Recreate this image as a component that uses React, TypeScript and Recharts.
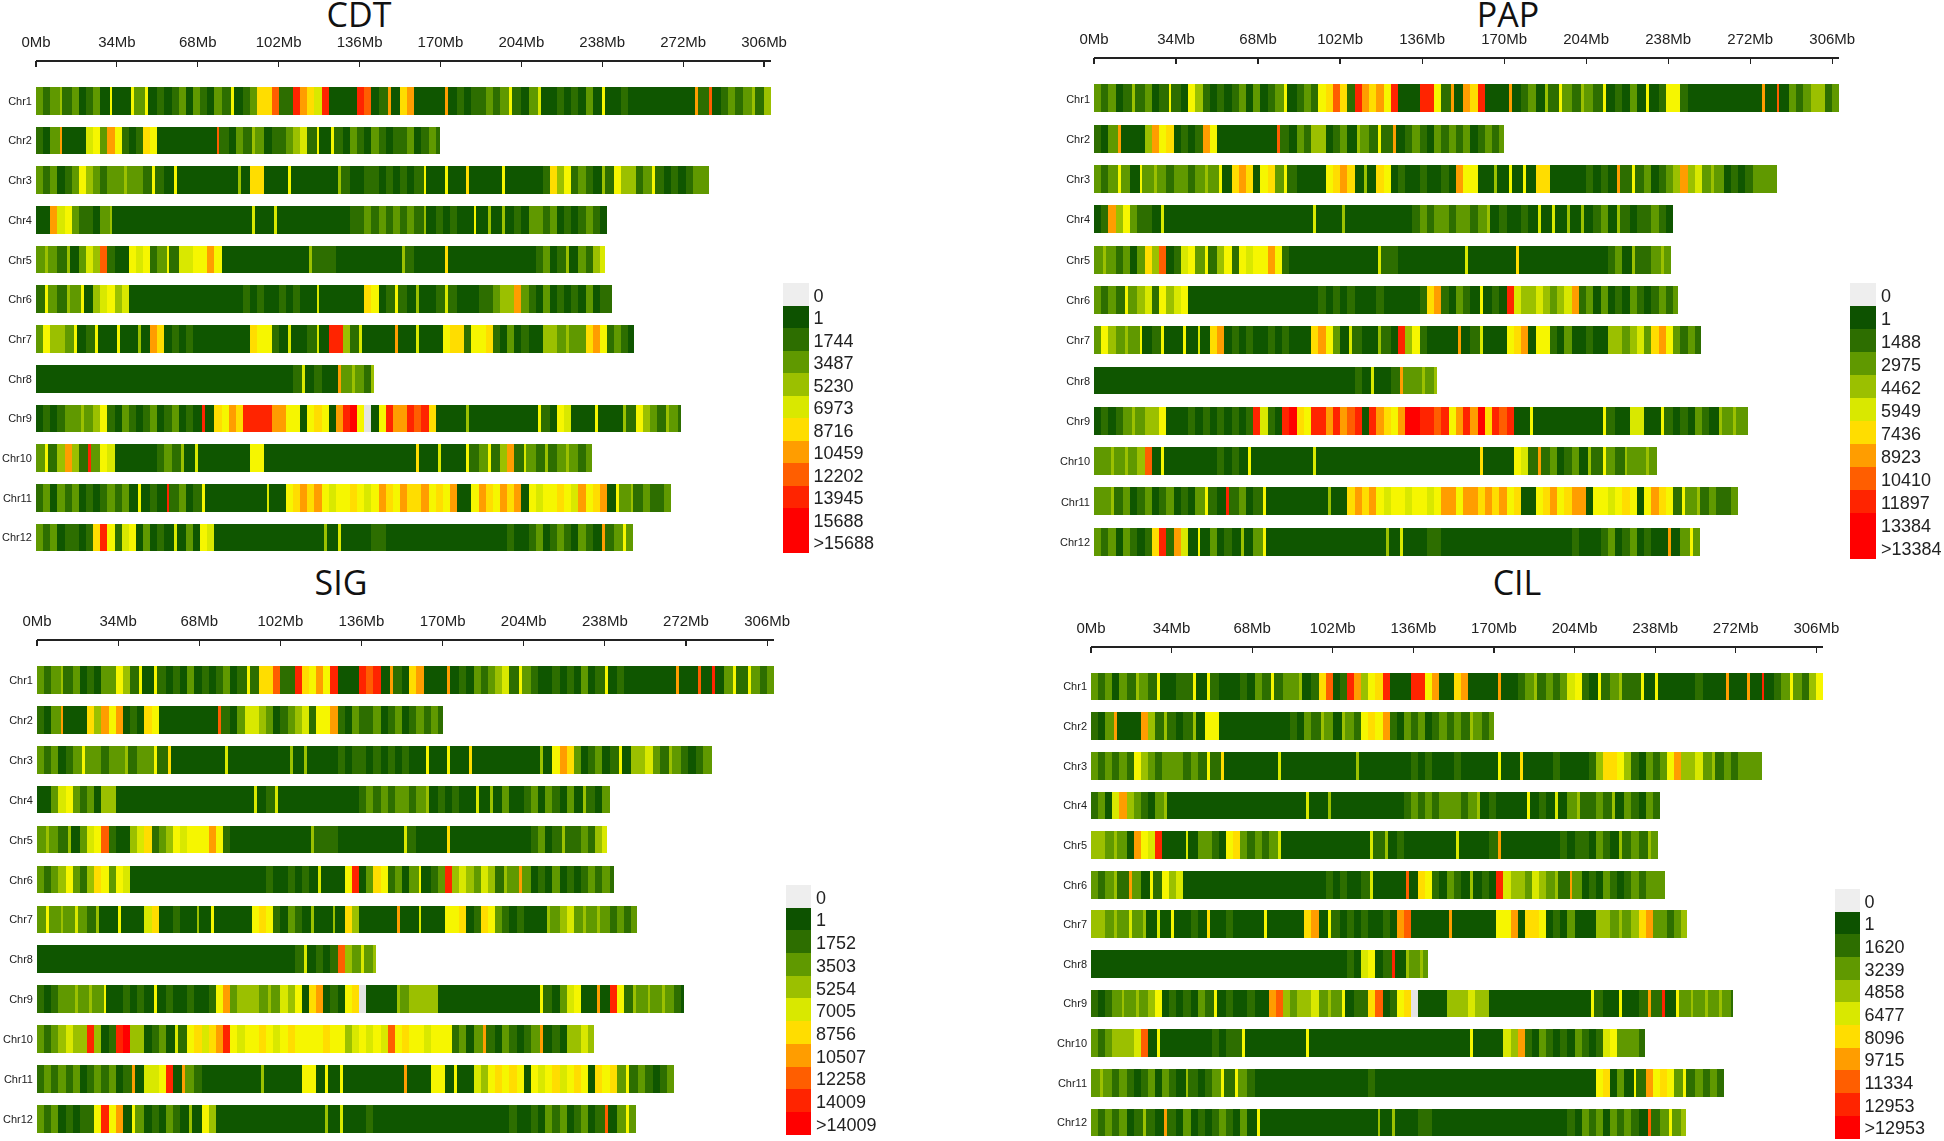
import { BarChart, Bar, Cell, XAxis, YAxis } from "recharts";

// bins are 3 Mb wide, one character per bin, spaces are only for counting
// 1-5 green to yellow-green, y pure yellow, 6 amber, 7-9 orange to red, a red, 0 no data
// a single bright bin between dark ones stands for a thin stripe, about 1 Mb wide
const chromNames = ["Chr1", "Chr2", "Chr3", "Chr4", "Chr5", "Chr6", "Chr7", "Chr8", "Chr9", "Chr10", "Chr11", "Chr12"];
const chromLengths = [309, 170, 283, 240, 239, 242, 251.5, 142, 271, 233.5, 267, 251];
const axisTicks = [0, 34, 68, 102, 136, 170, 204, 238, 272, 306];

const cdtBins = [
  "3234231231 y11y3y1212 3132132y12 3668229765 9111198127 1671111712 122323y213 511212131y 1121111111 1172812323 424",
  "2137111 5y3 7y2126y111 1111182132 4312234 52y 1y21321321 2231232",
  "323123y432 334332y21y 1111111141 66111y1111 1142112212 1212y11y11 61111y1111 1264y23214 2y4423y212 12333",
  "1175y32213 4111111111 1111111111 5115111111 1111223232 3232412121 1y14141213 3231212321",
  "3432413548 211y5y23y2 55yy7y1111 1111111142 2211111111 1421111611 1111111111 2312413245",
  "2y3243y145 y451111111 1111111112 1211212115 1111116y12 y214112521 1122344732 13121213122",
  "3y443y12y1 1y11417612 1211111111 6yy2151125 1994251111 7115111y66 2yy6213121 144343367y 2321",
  "1111111111 1111111111 1111111111 1111112512 11734324",
  "121233434y 2132123123 121916y769 99977yy1y6 y179ay01y9 7798961111 4111111111 y21y5111y1 1142y432432",
  "3y2474293y 5111111232 4151111111 yy11111111 1111111111 1116115111 y23y247253 24234323",
  "2313231212 3231y12192 312y111111 11511y6767 y5yy6y5y76 y7667y6y71 1y76y7671y 5yy6y57y67 1y3423223",
  "3231221269 y25y131215 131y511111 1111111111 4151111221 1111111111 1111112112 3123213217 23y3",
];

const papBins = [
  "3231242312 y21y421212 313123y123 2y68629767 y911199y27 1769111712 3142y32432 y12131y12y y211111111 1171813234 423",
  "2137111 47y 612127y111 1111182132 441231432y 2712321323 2312323",
  "323y31y343 2332343y16 761y63y211 11y6761416 y121121121 7yy1141y1y 1661111121 2172y23123 4745343121 23333",
  "1274y32215 1111111111 1111111111 5111411111 1111232332 3323412112 1515141412 3142122321",
  "3432313648 125y3y24y2 y5yy7y2111 1111111115 2211111111 1511111161 1111111111 1231422343",
  "3232y3452y 45y1111111 1111111111 1212121112 1111126721 321y121954 4543457231 31213212323",
  "3y4343y12y 11y1516712 1211212111 67y3152114 2194y21111 7125111y67 1yy2131121 144345367y 3232",
  "1111111111 1111111111 1111111111 1111112151 12733434",
  "121234344y 1112121212 1295219a6y 9979789197 6y7aa9989y 797a698911 y111111111 y211551 1y2 12132143433",
  "3343434 81y 1111111212 1y11111111 5111111111 1111111111 1116 1111y5 2723123142 y3243343",
  "3342312312 31213y2192 312y111111 1141167 67y 5yy5yy5y77 y776767y61 1y67y6771y y5y6y1y76y 2y3423223",
  "3231321269 2751y13121 413y111111 1111111111 4151112211 1111111111 1111112111 2312312117 13y3",
];

const sigBins = [
  "3234231213 3y42y1y212 131212312y 2668229 6y7 y911198917 2167111712 1323452y32 112121312y 1211111117 1181913y2y 323",
  "2137111647 y71216y111 1111182135 543123452y y721322312 3123232",
  "323123y332 334233y261 1111115111 1111141411 1121221212 1211y11y11 6111111111 41y7631231 2y14453243 21233",
  "1135y32314 4111111111 1111111111 5125111111 1111123232 3323412121 1514131123 1321314213",
  "34324135y8 2114562 34y 5yyy7y2111 1111111142 2211111111 1521111611 1111111112 3124223245",
  "3234y3246y 3y51111111 1111111111 1121121215 111y9136y2 313y123945 4354243731 21312123232",
  "3y34353241 1y11156112 1141y11111 y6y2132141 1416411111 7115111yy6 126y321211 1434534343 2323",
  "1111111111 1111111111 1111111111 1111112512 12843534",
  "212334343y 112121y121 12112y7344 434354y167 121y601111 4344441111 1111111111 y2135y1171 9y243434321",
  "3234544941 29a4412315 2y65679y5y y6y5y6yyyy 6yy45y5y58 y6yy5yyy23 1372132123 71214454",
  "2323231232 3127155y91 7321111111 1411111yy1 y1y1111111 17111yy1y1 154y6y6y1y 5y65y6y16y 63y232123",
  "32312122y9 y71y312132 141y411111 1111111111 4151112111 1111111111 1111112112 1323123128 13y3",
];

const cilBins = [
  "323132432y 1122y1y211 12132y2334 126812974y 6911199y71 1671111711 23423235y2 1y23422y1y 1111121117 11719123y3 24y",
  "2137111742 421241yy11 1111111121 32431432y6 y721323123 2324323",
  "323232y432 333232y261 1111115111 1111111411 1111121211 1211111y11 6111121111 2466y42132 3y74453423 23333",
  "2315743213 4111111111 1111111111 5114111111 1111232323 3323412111 1y12151342 2324132132",
  "4434317y59 111513321y 6323235111 1111111115 2412111111 1511112711 1111112122 1321423243",
  "32342731y2 y451111111 1111111111 1112121125 1111816y21 3214121954 4354342731 21321232333",
  "4434353415 1y11216112 1111y11111 671y212121 1217811111 7111111yy7 166y121311 1443434673 3234",
  "1111111111 1111111111 1111111111 111111215y 12914343",
  "212343434y 1212132y12 1121178434 45343y1226 812y601111 4445441111 1111111111 y211y11272 91y34343432",
  "323444581y 1111111212 2y11111111 y111111111 1111111111 111y111154 7213212132 125y3332",
  "3432321231 32142123y2 y321111111 1111111112 1111111111 1111111111 1111111111 1y6131y27y 6y3y23232",
  "3232312421 7213121232 131y111111 1111111111 4141112211 1111111111 1111111213 2313232182 3y34",
];

const cdtLegend = ["0", "1", "1744", "3487", "5230", "6973", "8716", "10459", "12202", "13945", "15688", ">15688"];
const papLegend = ["0", "1", "1488", "2975", "4462", "5949", "7436", "8923", "10410", "11897", "13384", ">13384"];
const sigLegend = ["0", "1", "1752", "3503", "5254", "7005", "8756", "10507", "12258", "14009", ">14009"];
const cilLegend = ["0", "1", "1620", "3239", "4858", "6477", "8096", "9715", "11334", "12953", ">12953"];

const legendColors = ["#eeeeee", "#0d5200", "#2d6e00", "#609900", "#9bc000", "#d9e800", "#ffdd00", "#ff9d00", "#ff5e00", "#ff2400", "#ff0000", "#ff0000"];

const levelFill: Record<string, string> = {
  "0": "#e4e4e4",
  "1": "#0f5600",
  "2": "#2d6e00",
  "3": "#609900",
  "4": "#9bc000",
  "5": "#d9e800",
  y: "#f6f600",
  "6": "#ffdd00",
  "7": "#ff9d00",
  "8": "#ff5e00",
  "9": "#ff2400",
  a: "#ff0000",
};

const BIN_MB = 3;
const THIN_MB = 1.2;
const AXIS_END = 309;
const labelFont = "'Liberation Sans', Arial, sans-serif";

const isDark = (c?: string) => c === "1" || c === "2" || c === "3";

// turn one chromosome's bin string into runs of [level, length in Mb]
function toRuns(bins: string, len: number) {
  const cells = bins.replace(/ /g, "").split("").slice(0, Math.ceil(len / BIN_MB));
  const runs: { level: string; mb: number }[] = [];
  const add = (level: string, mb: number) => {
    const last = runs[runs.length - 1];
    if (last && last.level === level) last.mb += mb;
    else runs.push({ level, mb });
  };
  cells.forEach((c, j) => {
    const mb = j === cells.length - 1 ? len - BIN_MB * j : BIN_MB;
    const prev = cells[j - 1];
    const next = cells[j + 1];
    if (!isDark(c) && isDark(prev) && isDark(next)) {
      const side = (mb - THIN_MB) / 2;
      add(prev, side);
      add(c, THIN_MB);
      add(next, side);
    } else {
      add(c, mb);
    }
  });
  return runs;
}

function buildRows(bins: string[]) {
  return chromNames.map((chr, i) => {
    const runs = toRuns(bins[i], chromLengths[i]);
    const row: any = { chr, runs };
    runs.forEach((r, j) => {
      row["s" + j] = r.mb;
    });
    return row;
  });
}

function AxisTick({ x, y, payload }: any) {
  return (
    <g>
      <line x1={x} x2={x} y1={y} y2={y + 6} stroke="#222" strokeWidth={1.2} />
      <text x={x} y={y - 19} textAnchor="middle" dominantBaseline="central" fontSize={15} fontFamily={labelFont} fill="#222">
        {payload.value}Mb
      </text>
    </g>
  );
}

function HeatPanel({ bins, x0, xEnd, axisY, rowTop, barH, pitch }: any) {
  const rows = buildRows(bins);
  const maxRuns = Math.max(...rows.map((r: any) => r.runs.length));
  const yWidth = 36;
  const top = axisY - 41;
  const padTop = rowTop - (pitch - barH) / 2 - axisY;
  const height = 41 + padTop + pitch * 12 + 2;
  return (
    <div style={{ position: "absolute", left: x0 - yWidth, top, filter: "blur(0.6px)" }}>
      <BarChart
        width={yWidth + (xEnd - x0) + 30}
        height={height}
        layout="vertical"
        data={rows}
        barSize={barH}
        margin={{ top: 0, right: 30, bottom: 2, left: 0 }}
        style={{ shapeRendering: "crispEdges" }}
      >
        <XAxis
          type="number"
          orientation="top"
          domain={[0, AXIS_END]}
          ticks={axisTicks}
          interval={0}
          height={41}
          tickSize={0}
          tickMargin={0}
          tickLine={false}
          axisLine={{ stroke: "#222", strokeWidth: 1.6 }}
          tick={<AxisTick />}
        />
        <YAxis
          type="category"
          dataKey="chr"
          width={yWidth}
          interval={0}
          tickSize={0}
          tickLine={false}
          axisLine={false}
          tickMargin={4}
          padding={{ top: padTop, bottom: 0 }}
          tick={{ fontSize: 11, fontFamily: labelFont, fill: "#222" }}
        />
        {Array.from({ length: maxRuns }, (_, j) => (
          <Bar key={j} dataKey={"s" + j} stackId="chrom" isAnimationActive={false}>
            {rows.map((r: any, k: number) => (
              <Cell key={k} fill={r.runs[j] ? levelFill[r.runs[j].level] : "none"} />
            ))}
          </Bar>
        ))}
      </BarChart>
    </div>
  );
}

function ScaleLegend({ labels, left, top, width, pitch }: any) {
  const data = labels.map((label: string) => ({ label, size: 1 }));
  const yWidth = 92;
  return (
    <div style={{ position: "absolute", left, top, filter: "blur(0.4px)" }}>
      <BarChart
        width={width + yWidth}
        height={pitch * labels.length}
        layout="vertical"
        data={data}
        barCategoryGap={0}
        margin={{ top: 0, right: 0, bottom: 0, left: 0 }}
        style={{ shapeRendering: "crispEdges" }}
      >
        <XAxis type="number" hide domain={[0, 1]} />
        <YAxis
          type="category"
          dataKey="label"
          orientation="right"
          width={yWidth}
          interval={0}
          tickSize={0}
          tickLine={false}
          axisLine={false}
          tickMargin={5}
          tick={{ fontSize: 18, fontFamily: labelFont, fill: "#222", dy: 1, textAnchor: "start" }}
        />
        <Bar dataKey="size" isAnimationActive={false}>
          {labels.map((_: string, i: number) => (
            <Cell key={i} fill={legendColors[i]} />
          ))}
        </Bar>
      </BarChart>
    </div>
  );
}

function Title({ text, x, y }: { text: string; x: number; y: number }) {
  return (
    <div
      style={{
        position: "absolute",
        left: x - 100,
        top: y - 14,
        width: 200,
        lineHeight: "28px",
        textAlign: "center",
        fontFamily: "'Open Sans', sans-serif",
        fontSize: 34,
        color: "#111",
      }}
    >
      {text}
    </div>
  );
}

export default function App() {
  return (
    <div style={{ position: "absolute", left: 0, top: 0, width: 1944, height: 1141, overflow: "hidden", background: "#fff" }}>
      <Title text="CDT" x={359} y={14} />
      <HeatPanel bins={cdtBins} x0={36.2} xEnd={771.4} axisY={61} rowTop={87} barH={27.7} pitch={39.7} />
      <ScaleLegend labels={cdtLegend} left={782.5} top={282.6} width={25.5} pitch={22.5} />

      <Title text="PAP" x={1508} y={14} />
      <HeatPanel bins={papBins} x0={1094} xEnd={1839.5} axisY={58.3} rowTop={85} barH={27.9} pitch={40.3} />
      <ScaleLegend labels={papLegend} left={1850} top={283} width={26} pitch={22.97} />

      <Title text="SIG" x={341} y={582} />
      <HeatPanel bins={sigBins} x0={37.2} xEnd={774.5} axisY={640.3} rowTop={666.7} barH={27.5} pitch={39.9} />
      <ScaleLegend labels={sigLegend} left={786} top={885} width={25} pitch={22.7} />

      <Title text="CIL" x={1517} y={582} />
      <HeatPanel bins={cilBins} x0={1090.5} xEnd={1823} axisY={646.7} rowTop={672.3} barH={27.7} pitch={39.64} />
      <ScaleLegend labels={cilLegend} left={1834.5} top={889.3} width={24.5} pitch={22.67} />
    </div>
  );
}
